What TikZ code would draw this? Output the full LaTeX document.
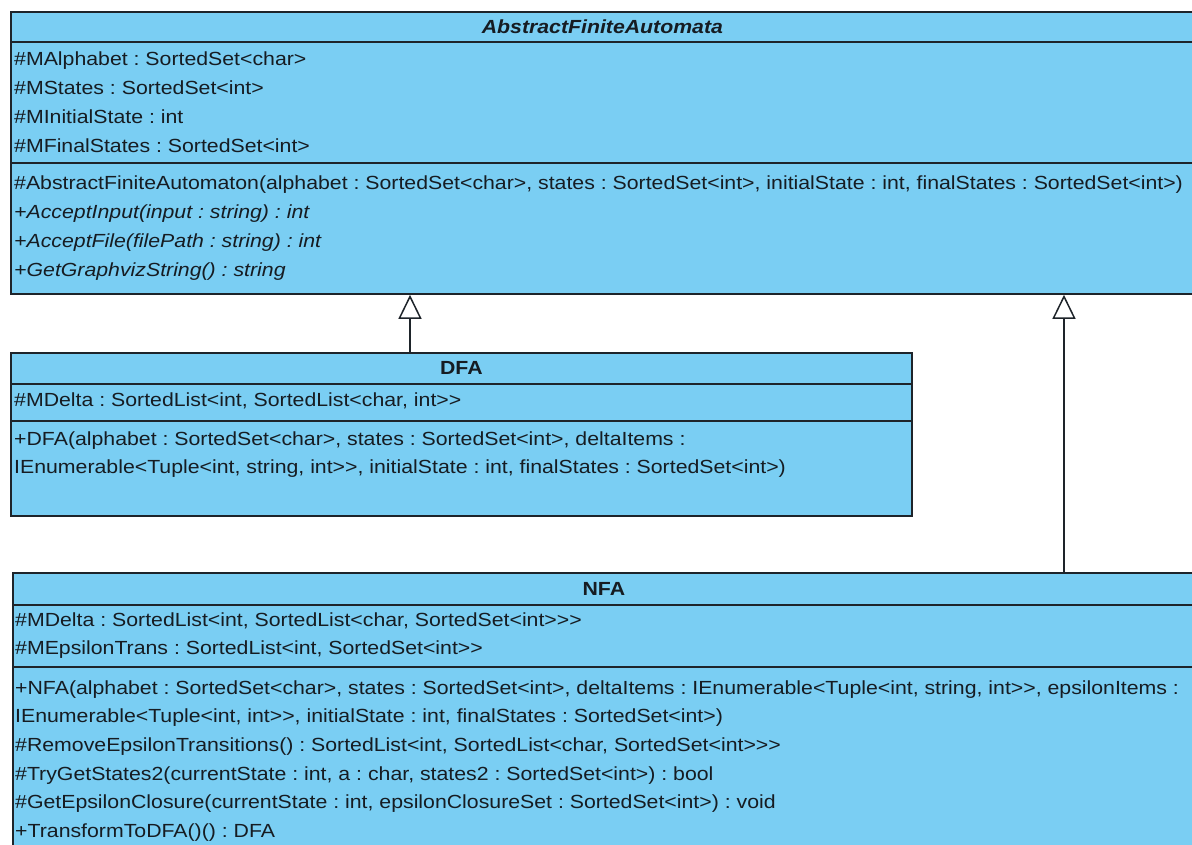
\documentclass[tikz,border=0pt]{standalone}
\usepackage{fontspec}
\setmainfont[FakeStretch=1.12]{Liberation Sans}
\frenchspacing
\usetikzlibrary{arrows.meta}
\definecolor{classfill}{RGB}{122,206,243}
\definecolor{classline}{RGB}{30,36,42}
\definecolor{membertext}{RGB}{22,28,34}
\tikzset{
  compartment/.style={draw=classline, fill=classfill, line width=1.8pt, anchor=north west, inner sep=0pt},
  classname/.style={font=\fontsize{19}{22}\selectfont\bfseries, text=membertext},
  member/.style={anchor=west, inner sep=0pt, font=\fontsize{19}{22}\selectfont, text=membertext, text height=14pt, text depth=4pt},
  generalization/.style={draw=classline, line width=1.5pt, -{Triangle[open, fill=white, length=24pt, width=23pt, line width=1.5pt]}}
}
\begin{document}
\begin{tikzpicture}[x=1pt, y=-1pt]
\useasboundingbox (0,0) rectangle (1192,845);

% AbstractFiniteAutomata
\node[compartment, classname, minimum width=1183, minimum height=30] (abstitle) at (10,11) {\itshape AbstractFiniteAutomata};
\node[compartment, minimum width=1183, minimum height=121] (absattr) at (10,41) {};
\node[compartment, minimum width=1183, minimum height=131] (absops) at (10,162) {};
\node[member] (absa1) at (14,61) {\#MAlphabet : SortedSet<char>};
\node[member] (absa2) at (14,89.7) {\#MStates : SortedSet<int>};
\node[member] (absa3) at (14,118.4) {\#MInitialState : int};
\node[member] (absa4) at (14,147.1) {\#MFinalStates : SortedSet<int>};
\node[member] (abso1) at (14,185) {\#AbstractFiniteAutomaton(alphabet : SortedSet<char>, states : SortedSet<int>, initialState : int, finalStates : SortedSet<int>)};
\node[member] (abso2) at (14,213.7) {\itshape +AcceptInput(input : string) : int};
\node[member] (abso3) at (14,242.4) {\itshape +AcceptFile(filePath : string) : int};
\node[member] (abso4) at (14,271.1) {\itshape +GetGraphvizString() : string};

% DFA
\node[compartment, classname, minimum width=901, minimum height=31] (dfatitle) at (10,352) {DFA};
\node[compartment, minimum width=901, minimum height=37] (dfaattr) at (10,383) {};
\node[compartment, minimum width=901, minimum height=95] (dfaops) at (10,420) {};
\node[member] (dfaa1) at (14,401) {\#MDelta : SortedList<int, SortedList<char, int>{}>};
\node[member] (dfao1) at (14,440) {+DFA(alphabet : SortedSet<char>, states : SortedSet<int>, deltaItems :};
\node[member] (dfao2) at (14,468.7) {IEnumerable<Tuple<int, string, int>{}>, initialState : int, finalStates : SortedSet<int>)};

% NFA
\node[compartment, classname, minimum width=1182, minimum height=32] (nfatitle) at (12,572) {NFA};
\node[compartment, minimum width=1182, minimum height=62] (nfaattr) at (12,604) {};
\node[compartment, minimum width=1182, minimum height=200] (nfaops) at (12,666) {};
\node[member] (nfaa1) at (15,621) {\#MDelta : SortedList<int, SortedList<char, SortedSet<int>{}>{}>};
\node[member] (nfaa2) at (15,649.5) {\#MEpsilonTrans : SortedList<int, SortedSet<int>{}>};
\node[member] (nfao1) at (15,689) {+NFA(alphabet : SortedSet<char>, states : SortedSet<int>, deltaItems : IEnumerable<Tuple<int, string, int>{}>, epsilonItems :};
\node[member] (nfao2) at (15,717.7) {IEnumerable<Tuple<int, int>{}>, initialState : int, finalStates : SortedSet<int>)};
\node[member] (nfao3) at (15,746.4) {\#RemoveEpsilonTransitions() : SortedList<int, SortedList<char, SortedSet<int>{}>{}>};
\node[member] (nfao4) at (15,775.1) {\#TryGetStates2(currentState : int, a : char, states2 : SortedSet<int>) : bool};
\node[member] (nfao5) at (15,803.8) {\#GetEpsilonClosure(currentState : int, epsilonClosureSet : SortedSet<int>) : void};
\node[member] (nfao6) at (15,832.5) {+TransformToDFA()() : DFA};

% generalizations
\coordinate (dfaline) at (410,0);
\coordinate (nfaline) at (1064,0);
\draw[generalization] (dfaline |- dfatitle.north) -- (dfaline |- absops.south);
\draw[generalization] (nfaline |- nfatitle.north) -- (nfaline |- absops.south);
\end{tikzpicture}
\end{document}
